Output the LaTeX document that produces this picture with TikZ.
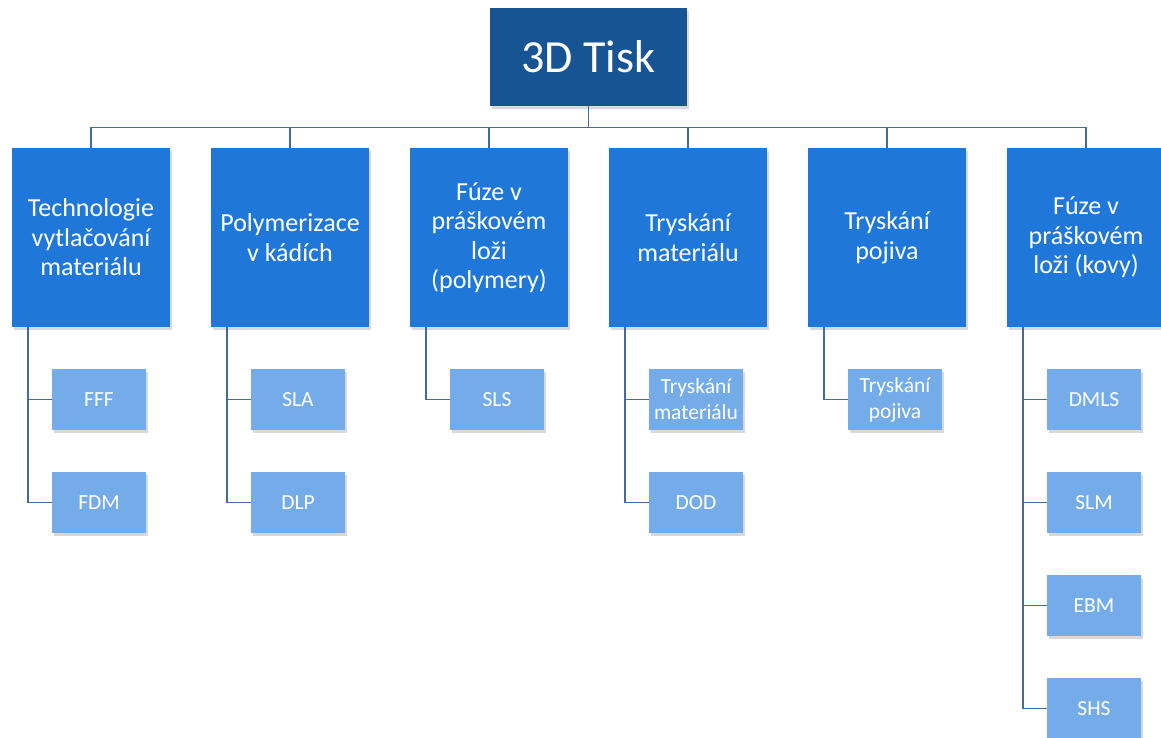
\documentclass[tikz,border=0pt]{standalone}
\usepackage{fontspec}
\setmainfont{Carlito}
\usetikzlibrary{positioning, shadows}
\definecolor{rootblue}{RGB}{23,84,148}
\definecolor{midblue}{RGB}{31,119,217}
\definecolor{leafblue}{RGB}{116,172,234}
\definecolor{linkblue}{RGB}{68,106,165}
\tikzset{
  box/.style={fill=#1, text=white, align=center, inner sep=0pt,
    drop shadow={opacity=0.3, shadow xshift=2pt, shadow yshift=-2.5pt}}, % soft shadow like the slide
  root/.style={box=rootblue, minimum width=197pt, minimum height=98pt, font=\fontsize{46}{52}\selectfont},
  branch/.style={box=midblue, minimum width=158pt, minimum height=179pt, font=\fontsize{26}{29.5}\selectfont},
  leaf/.style={box=leafblue, minimum width=94pt, minimum height=61pt, font=\fontsize{21.5}{26}\selectfont},
  link/.style={draw=linkblue, line width=1.4pt},
}

\begin{document}
\begin{tikzpicture}[x=1pt, y=-1pt, on grid, node distance=103pt]
  \useasboundingbox (0,0) rectangle (1161,737);

  \node[root] (tisk) at (588.5,57) {3D Tisk};

  % second level
  \node[branch] (vytl) at (91,237.5) {Technologie\\vytlačování\\materiálu};
  \node[branch, right=199pt of vytl] (poly) {Polymerizace\\v kádích};
  \node[branch, right=199pt of poly] (fuzep) {Fúze v\\práškovém\\loži\\(polymery)};
  \node[branch, right=199pt of fuzep] (trmat) {Tryskání\\materiálu};
  \node[branch, right=199pt of trmat] (trpoj) {Tryskání\\pojiva};
  \node[branch, right=199pt of trpoj] (fuzek) {Fúze v\\práškovém\\loži (kovy)};

  % third level
  \node[leaf, below right=162pt and 8pt of vytl] (fff) {FFF};
  \node[leaf, below=of fff] (fdm) {FDM};

  \node[leaf, below right=162pt and 8pt of poly] (sla) {SLA};
  \node[leaf, below=of sla] (dlp) {DLP};

  \node[leaf, below right=162pt and 8pt of fuzep] (sls) {SLS};

  \node[leaf, below right=162pt and 8pt of trmat] (trm) {Tryskání\\materiálu};
  \node[leaf, below=of trm] (dod) {DOD};

  \node[leaf, below right=162pt and 8pt of trpoj] (trp) {Tryskání\\pojiva};

  \node[leaf, below right=162pt and 8pt of fuzek] (dmls) {DMLS};
  \node[leaf, below=of dmls] (slm) {SLM};
  \node[leaf, below=of slm] (ebm) {EBM};
  \node[leaf, below=of ebm] (shs) {SHS};

  % tree lines
  \foreach \b in {vytl, poly, fuzep, trmat, trpoj, fuzek}
    \draw[link] (tisk.south) -- ++(0,21) -| (\b.north);

  \draw[link] ([xshift=16pt]vytl.south west) |- (fff.west);
  \draw[link] ([xshift=16pt]vytl.south west) |- (fdm.west);
  \draw[link] ([xshift=16pt]poly.south west) |- (sla.west);
  \draw[link] ([xshift=16pt]poly.south west) |- (dlp.west);
  \draw[link] ([xshift=16pt]fuzep.south west) |- (sls.west);
  \draw[link] ([xshift=16pt]trmat.south west) |- (trm.west);
  \draw[link] ([xshift=16pt]trmat.south west) |- (dod.west);
  \draw[link] ([xshift=16pt]trpoj.south west) |- (trp.west);
  \foreach \l in {dmls, slm, ebm, shs}
    \draw[link] ([xshift=16pt]fuzek.south west) |- (\l.west);
\end{tikzpicture}
\end{document}
